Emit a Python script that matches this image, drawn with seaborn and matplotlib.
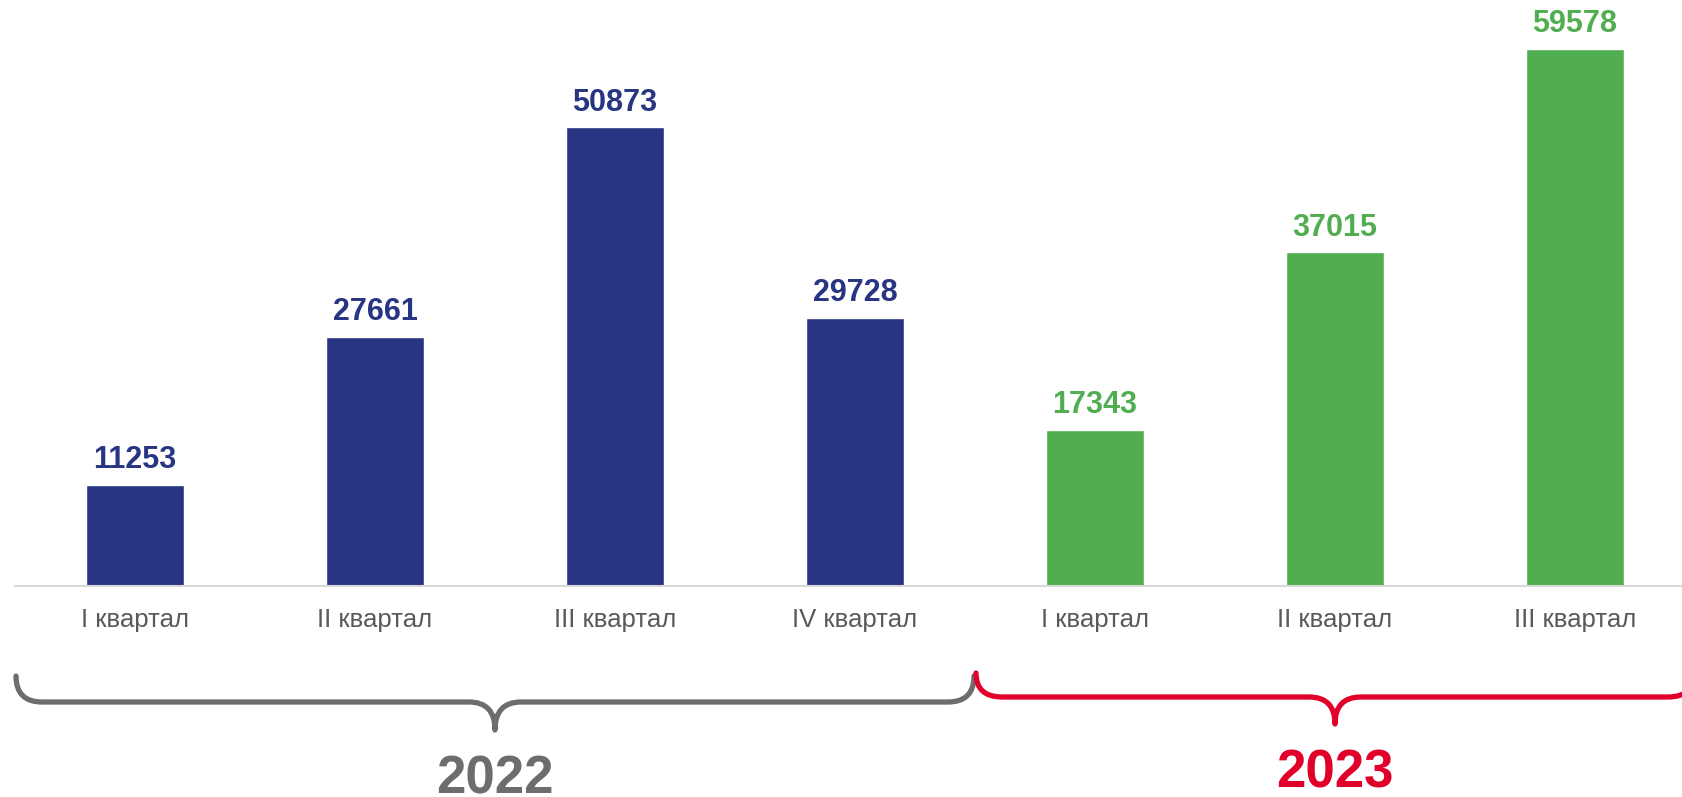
import matplotlib
matplotlib.use("Agg")
import matplotlib.pyplot as plt
import seaborn as sns
import pandas as pd
from matplotlib.path import Path
from matplotlib.patches import PathPatch

quarters = ["I квартал", "II квартал", "III квартал", "IV квартал",
            "I квартал", "II квартал", "III квартал"]
years = ["2022", "2022", "2022", "2022", "2023", "2023", "2023"]
values = [11253, 27661, 50873, 29728, 17343, 37015, 59578]

bar_colors = {"2022": "#283583", "2023": "#50AE50"}
brace_colors = {"2022": "#6d6d6d", "2023": "#e1002a"}

df = pd.DataFrame({"slot": [f"{y} {q}" for y, q in zip(years, quarters)],
                   "year": years, "value": values})

sns.set_style("white")
plt.rcParams["font.family"] = ["Liberation Sans", "DejaVu Sans"]

W, H = 1683, 797
fig = plt.figure(figsize=(W / 100, H / 100), dpi=100)
ax = fig.add_axes([15 / W, (H - 586) / H, (W - 15) / W, 586 / H])

sns.barplot(data=df, x="slot", y="value", hue="year", palette=bar_colors,
            dodge=False, width=0.41, saturation=1, legend=False, ax=ax)

for cont, yr in zip(ax.containers, ["2022", "2023"]):
    ax.bar_label(cont, fmt="%d", color=bar_colors[yr], fontsize=22,
                 fontweight="bold", padding=7)

ax.set_xlim(-0.5, -0.5 + (W - 15) / 240)
ax.set_ylim(0, 65013)
ax.set_xlabel("")
ax.set_ylabel("")
ax.set_yticks([])
ax.set_xticks(range(len(quarters)))
ax.set_xticklabels(quarters, fontsize=18.5, color="#595959")
ax.set_xticks([i - 0.5 for i in range(len(quarters))], minor=True)
ax.tick_params(axis="x", which="major", length=0, pad=16)
ax.tick_params(axis="x", which="minor", length=6, width=1.5,
               color="#d9d9d9", direction="out")
for s in ["top", "left", "right"]:
    ax.spines[s].set_visible(False)
ax.spines["bottom"].set_color("#d9d9d9")
ax.spines["bottom"].set_linewidth(1.5)

# overlay for braces, pixel coords (y from top)
ov = fig.add_axes([0, 0, 1, 1])
ov.set_xlim(0, W)
ov.set_ylim(H, 0)
ov.axis("off")
ov.patch.set_alpha(0)

fig.canvas.draw()


def px(xd):
    return ax.transData.transform((xd, 0))[0]


def brace(x0, x1, top, hy, tip, color, r=26):
    cx = (x0 + x1) / 2
    verts = [(x0, top), (x0, hy), (x0 + r, hy),
             (cx - r, hy), (cx, hy), (cx, tip),
             (cx, hy), (cx + r, hy),
             (x1 - r, hy), (x1, hy), (x1, top)]
    codes = [Path.MOVETO, Path.CURVE3, Path.CURVE3,
             Path.LINETO, Path.CURVE3, Path.CURVE3,
             Path.CURVE3, Path.CURVE3,
             Path.LINETO, Path.CURVE3, Path.CURVE3]
    ov.add_patch(PathPatch(Path(verts, codes), fill=False, edgecolor=color,
                           lw=3.8, capstyle="round", joinstyle="round"))
    return cx


groups = [("2022", -0.5, 3.5, 676, 702, 730, 793),
          ("2023", 3.5, 6.5, 673, 697, 724, 788)]
for yr, a, b, top, hy, tip, base in groups:
    cx = brace(px(a) + 1, px(b) - 1, top, hy, tip, brace_colors[yr])
    ov.text(cx, base, yr, ha="center", va="baseline", fontsize=38,
            fontweight="bold", color=brace_colors[yr])

fig.savefig("out.png", dpi=100)
